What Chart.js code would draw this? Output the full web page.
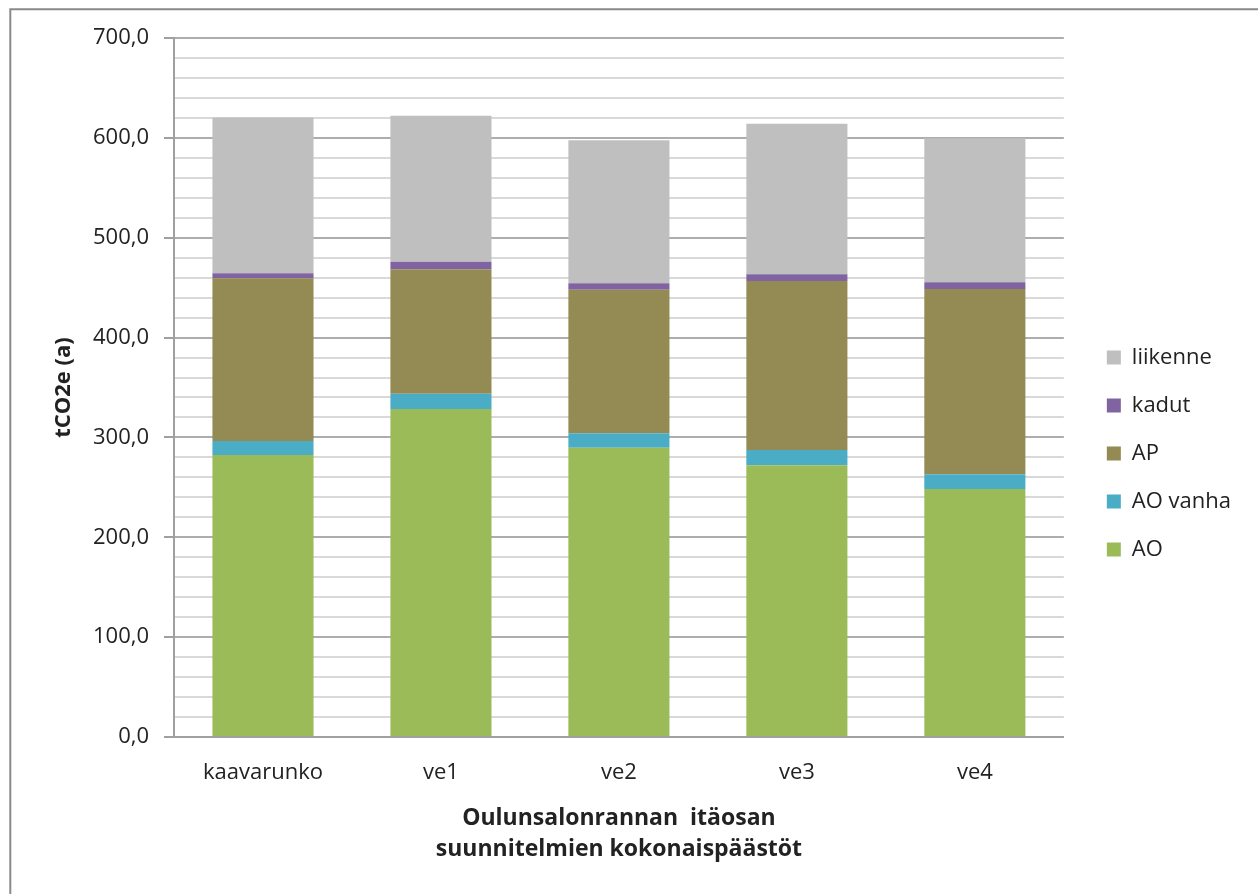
<!DOCTYPE html>
<html>
<head>
<meta charset="utf-8">
<script src="https://cdn.jsdelivr.net/npm/chart.js@4"></script>
<style>
  html, body { margin: 0; padding: 0; background: #ffffff; }
  #wrap { width: 1258px; height: 894px; }
</style>
</head>
<body>
<div id="wrap"><canvas id="c" width="1258" height="894"></canvas></div>
<script>
// Plans compared
const categories = ['kaavarunko', 've1', 've2', 've3', 've4'];

// Emissions per source, tCO2e per year (stacked bottom to top)
const aoValues       = [282.4, 328.5, 289.7, 272.1, 248.3];
const aoVanhaValues  = [14.0, 15.3, 14.4, 15.3, 14.8];
const apValues       = [163.0, 124.5, 143.9, 169.2, 185.5];
const kadutValues    = [5.0, 7.7, 6.3, 6.7, 6.7];
const liikenneValues = [155.9, 146.2, 143.2, 150.9, 144.2];

// Value axis labels (every 100, minor grid every 20)
const yTickLabels = ['0,0', '100,0', '200,0', '300,0', '400,0', '500,0', '600,0', '700,0'];

const yAxisTitle = 'tCO2e (a)';
const xAxisTitle = ['Oulunsalonrannan  itäosan', 'suunnitelmien kokonaispäästöt'];

const FONT = "'Open Sans', 'Noto Sans', sans-serif";
const TEXT = '#222222';

// Outer frame and white background
const framePlugin = {
  id: 'frame',
  beforeDraw(chart) {
    const ctx = chart.ctx;
    ctx.save();
    ctx.fillStyle = '#ffffff';
    ctx.fillRect(0, 0, chart.width, chart.height);
    ctx.strokeStyle = '#8a8a8a';
    ctx.lineWidth = 2;
    ctx.beginPath();
    ctx.moveTo(10.3, chart.height);
    ctx.lineTo(10.3, 9.3);
    ctx.lineTo(chart.width, 9.3);
    ctx.stroke();
    ctx.restore();
  }
};

const data = {
  labels: categories,
  datasets: [
    { label: 'AO',       data: aoValues,       backgroundColor: '#9BBB59' },
    { label: 'AO vanha', data: aoVanhaValues,  backgroundColor: '#4BACC6' },
    { label: 'AP',       data: apValues,       backgroundColor: '#948A54' },
    { label: 'kadut',    data: kadutValues,    backgroundColor: '#8064A2' },
    { label: 'liikenne', data: liikenneValues, backgroundColor: '#BFBFBF' }
  ]
};

const isMajor = (v) => Math.abs(v % 100) < 1e-6;

new Chart(document.getElementById('c'), {
  type: 'bar',
  data,
  options: {
    responsive: false,
    animation: false,
    devicePixelRatio: 1,
    datasets: {
      bar: { barPercentage: 0.568, categoryPercentage: 1.0, borderWidth: 0 }
    },
    layout: { padding: { left: 0, top: 38, right: 17, bottom: 25 } },
    plugins: {
      tooltip: { enabled: false },
      legend: {
        position: 'right',
        reverse: true,
        labels: {
          boxWidth: 14,
          boxHeight: 14,
          padding: 26,
          color: TEXT,
          font: { family: FONT, size: 22 }
        }
      }
    },
    scales: {
      x: {
        stacked: true,
        grid: { display: false, drawTicks: false },
        border: { display: true, color: '#a0a0a0', width: 2 },
        ticks: {
          color: TEXT,
          padding: 23,
          font: { family: FONT, size: 22 }
        },
        title: {
          display: true,
          text: xAxisTitle,
          color: TEXT,
          font: { family: FONT, size: 23, weight: 'bold', lineHeight: 1.35 },
          padding: { top: 4, bottom: 4 }
        },
        afterFit(scale) { scale.height = (894 - 25) - 737; }
      },
      y: {
        stacked: true,
        min: 0,
        max: 700,
        ticks: {
          stepSize: 20,
          autoSkip: false,
          padding: 15,
          color: TEXT,
          font: { family: FONT, size: 22 },
          callback: (v) => isMajor(v) ? yTickLabels[Math.round(v / 100)] : ''
        },
        grid: {
          drawTicks: true,
          tickLength: 10,
          lineWidth: 2,
          color: (c) => isMajor(c.tick.value) ? '#adadad' : '#d9d9d9',
          tickColor: (c) => isMajor(c.tick.value) ? '#a0a0a0' : 'rgba(0,0,0,0)'
        },
        border: { display: true, color: '#a0a0a0', width: 2 },
        title: {
          display: true,
          text: yAxisTitle,
          color: TEXT,
          font: { family: FONT, size: 22, weight: 'bold', lineHeight: 1.2 },
          padding: { top: 51, bottom: 0 }
        },
        afterFit(scale) { scale.width = 174; }
      },
      // empty spacer between plot and legend
      gap: {
        position: 'right',
        display: true,
        grid: { display: false, drawTicks: false },
        border: { display: false },
        ticks: { display: false },
        afterFit(scale) { scale.width = 17; }
      }
    }
  },
  plugins: [framePlugin]
});
</script>
</body>
</html>
